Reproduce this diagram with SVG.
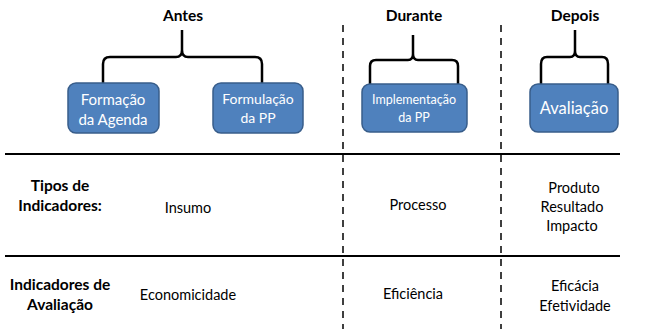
<svg xmlns="http://www.w3.org/2000/svg" width="663" height="329" viewBox="0 0 663 329">
<style>
.box{fill:#4f81bd;stroke:#385d8a;stroke-width:1.5}
.bt{fill:#fff;font-family:Lato,"Liberation Sans",sans-serif;text-anchor:middle}
.t{fill:#000;font-family:Lato,"Liberation Sans",sans-serif;font-size:14.5px;text-anchor:middle}
.b{font-weight:bold;font-size:15.5px}
.brace{fill:none;stroke:#000;stroke-width:2.5}
.dash{stroke:#000;stroke-width:1.5;stroke-dasharray:7,6}
.hl{stroke:#000;stroke-width:2}
</style>
<rect width="663" height="329" fill="#fff"/>
<g id="connectors">
<line class="dash" x1="343" y1="25" x2="343" y2="329"/>
<line class="dash" x1="501" y1="25" x2="501" y2="329"/>
<line class="hl" x1="5" y1="154" x2="620" y2="154"/>
<line class="hl" x1="5" y1="256" x2="620" y2="256"/>
<path class="brace" d="M103,84 V64 Q103,57 110,57 H176 Q182,57 182,50 V30 M182,50 Q182,57 188,57 H255 Q262,57 262,64 V84"/>
<path class="brace" d="M370,84 V66 Q370,60 376,60 H408 Q413,60 413,54 V35 M413,54 Q413,60 418,60 H452 Q458,60 458,66 V84"/>
<path class="brace" d="M541,84 V64 Q541,57 547,57 H570 Q575,57 575,51 V30 M575,51 Q575,57 580,57 H602 Q608,57 608,64 V84"/>
</g>
<g id="antes"><text class="t b" x="183" y="21">Antes</text></g>
<g id="durante"><text class="t b" x="414" y="21">Durante</text></g>
<g id="depois"><text class="t b" x="575" y="21">Depois</text></g>
<g id="formacao">
<rect class="box" x="68" y="83" width="91" height="50" rx="8"/>
<text class="bt" x="113" y="105" font-size="15">Formação</text>
<text class="bt" x="113" y="125" font-size="15">da Agenda</text>
</g>
<g id="formulacao">
<rect class="box" x="213" y="83" width="90" height="50" rx="8"/>
<text class="bt" x="258" y="104" font-size="14">Formulação</text>
<text class="bt" x="258" y="123" font-size="14">da PP</text>
</g>
<g id="implementacao">
<rect class="box" x="362" y="84" width="105" height="48" rx="8"/>
<text class="bt" x="414" y="104" font-size="12.5">Implementação</text>
<text class="bt" x="414" y="122" font-size="12.5">da PP</text>
</g>
<g id="avaliacao">
<rect class="box" x="530" y="84" width="88" height="48" rx="8"/>
<text class="bt" x="574" y="114" font-size="16.5">Avaliação</text>
</g>
<g id="row1">
<text class="t b" x="60" y="191">Tipos de</text>
<text class="t b" x="60" y="211">Indicadores:</text>
<text class="t" x="188" y="213">Insumo</text>
<text class="t" x="418" y="210">Processo</text>
<text class="t" x="574" y="193">Produto</text>
<text class="t" x="572" y="212">Resultado</text>
<text class="t" x="572" y="231">Impacto</text>
</g>
<g id="row2">
<text class="t b" x="60" y="290">Indicadores de</text>
<text class="t b" x="60" y="310">Avaliação</text>
<text class="t" x="188" y="300">Economicidade</text>
<text class="t" x="413" y="299">Eficiência</text>
<text class="t" x="575" y="291">Eficácia</text>
<text class="t" x="575" y="311">Efetividade</text>
</g>
</svg>
